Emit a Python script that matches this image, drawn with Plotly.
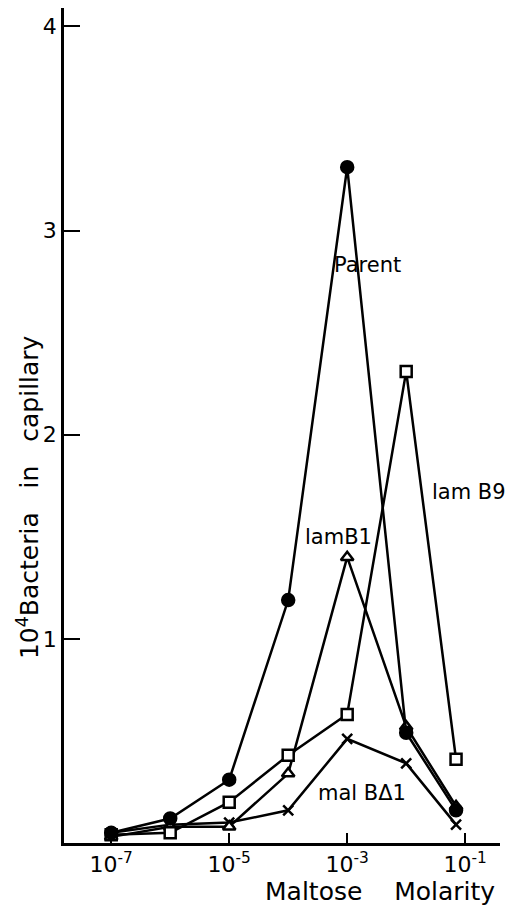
import plotly.graph_objects as go

# Maltose molarity (M)
molarity = [1e-7, 1e-6, 1e-5, 1e-4, 1e-3, 1e-2, 7e-2]

# 10^4 bacteria in capillary
parent = [0.05, 0.12, 0.31, 1.19, 3.31, 0.54, 0.16]
lamB9 = [0.04, 0.05, 0.20, 0.43, 0.63, 2.31, 0.41]
lamB1 = [0.03, 0.08, 0.08, 0.34, 1.40, 0.57, 0.18]
malBd1 = [0.05, 0.09, 0.10, 0.16, 0.51, 0.39, 0.09]

x_tickvals = [1e-7, 1e-5, 1e-3, 1e-1]
x_ticktext = ["10<sup>-7</sup>", "10<sup>-5</sup>", "10<sup>-3</sup>", "10<sup>-1</sup>"]
y_tickvals = [1, 2, 3, 4]

FONT = "DejaVu Sans"
fig = go.Figure()

def add(y, symbol, size, fill, name):
    fig.add_trace(go.Scatter(
        x=molarity, y=y, mode="lines+markers", name=name,
        line=dict(color="black", width=2.5),
        marker=dict(symbol=symbol, size=size, color=fill,
                    line=dict(color="black", width=2.5)),
        showlegend=False, cliponaxis=False))

add(malBd1, "x-thin", 10, "black", "malBΔ1")
add(lamB1, "triangle-up", 11, "white", "lamB1")
add(lamB9, "square", 11, "white", "lamB9")
add(parent, "circle", 12, "black", "Parent")

labels = [("Parent", -2.66, 2.83), ("lam B9", -0.93, 1.72),
          ("lamB1", -3.15, 1.50), ("mal BΔ1", -2.75, 0.245)]
for txt, lx, ly in labels:
    fig.add_annotation(x=lx, y=ly, xref="x", yref="y", text=txt, showarrow=False,
                       font=dict(family=FONT, size=21, color="black"))

fig.add_annotation(x=-0.083, y=0.414, xref="paper", yref="paper",
                   xanchor="center", yanchor="middle",
                   text="10<sup>4</sup>Bacteria   in   capillary", textangle=-90,
                   showarrow=False, font=dict(family=FONT, size=25, color="black"))
fig.add_annotation(x=0.725, y=-0.058, xref="paper", yref="paper",
                   xanchor="center", yanchor="middle",
                   text="Maltose    Molarity", showarrow=False,
                   font=dict(family=FONT, size=25, color="black"))

fig.update_layout(
    width=505, height=898,
    margin=dict(l=56, r=13, t=0, b=63),
    paper_bgcolor="white", plot_bgcolor="white",
    font=dict(family=FONT, color="black"),
    xaxis=dict(type="log", range=[-7.8, -0.41], tickvals=x_tickvals, ticktext=x_ticktext,
               ticks="inside", ticklen=10, tickwidth=2, tickcolor="black",
               showline=True, linecolor="black", linewidth=2.5, showgrid=False,
               zeroline=False, tickfont=dict(family=FONT, size=22, color="black")),
    yaxis=dict(range=[0, 4.09], tickvals=y_tickvals, ticks="inside", ticklen=16,
               tickwidth=2, tickcolor="black", showline=True, linecolor="black",
               linewidth=2.5, showgrid=False, zeroline=False, ticklabelstandoff=0,
               tickfont=dict(family=FONT, size=22, color="black")),
)

fig.write_html("out.html")
